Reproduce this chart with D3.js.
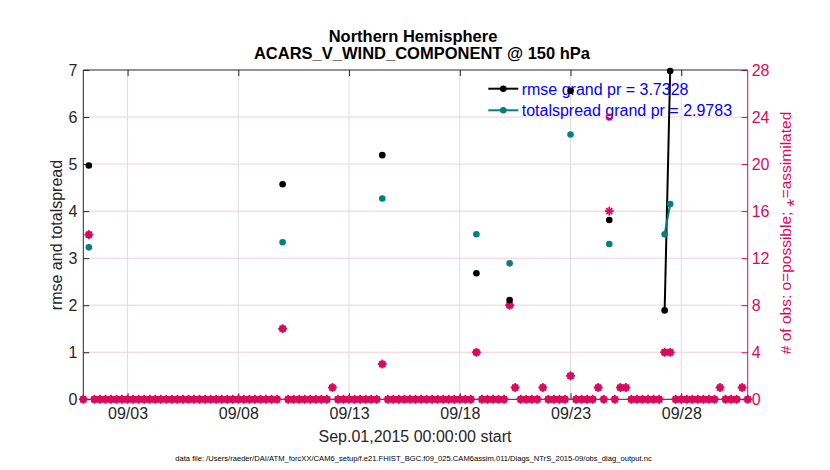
<!DOCTYPE html>
<html>
<head>
<meta charset="utf-8">
<script src="https://cdn.jsdelivr.net/npm/d3@7"></script>
<style>
  body { margin: 0; background: #fff; }
  svg { font-family: "Liberation Sans", Arial, Helvetica, sans-serif; }
</style>
</head>
<body>
<svg id="chart" width="830" height="470"></svg>
<script>
// bins are 6 hourly, starting Sep 1 2015 00Z
var binStart = Date.UTC(2015, 8, 1, 0);
var binHours = 6;

// number of obs per bin (possible / assimilated)
var nPossible = [
  0,14,0,0,0,0,0,0,0,0,
  0,0,0,0,0,0,0,0,0,0,
  0,0,0,0,0,0,0,0,0,0,
  0,0,0,0,0,0,6,0,0,0,
  0,0,0,0,0,1,0,0,0,0,
  0,0,0,0,3,0,0,0,0,0,
  0,0,0,0,0,0,0,0,0,0,
  0,4,0,0,0,0,0,8,1,0,
  0,0,0,1,0,0,0,0,2,0,
  0,0,0,1,0,24,0,1,1,0,
  0,0,0,0,0,4,4,0,0,0,
  0,0,0,0,0,1,0,0,0,1,
  0
];
var nUsed = [
  0,14,0,0,0,0,0,0,0,0,
  0,0,0,0,0,0,0,0,0,0,
  0,0,0,0,0,0,0,0,0,0,
  0,0,0,0,0,0,6,0,0,0,
  0,0,0,0,0,1,0,0,0,0,
  0,0,0,0,3,0,0,0,0,0,
  0,0,0,0,0,0,0,0,0,0,
  0,4,0,0,0,0,0,8,1,0,
  0,0,0,1,0,0,0,0,2,0,
  0,0,0,1,0,16,0,1,1,0,
  0,0,0,0,0,4,4,0,0,0,
  0,0,0,0,0,1,0,0,0,1,
  0
];

// bins where rmse / spread got computed
var statBins    = [1, 36, 54, 71, 77, 88, 95, 105, 106];
var rmse        = [4.97, 4.57, 5.19, 2.68, 2.11, 6.56, 3.81, 1.89, 6.98];
var totalspread = [3.23, 3.34, 4.27, 3.51, 2.89, 5.63, 3.30, 3.51, 4.15];

var xTickDays = [3, 8, 13, 18, 23, 28];
var yTicks = [0, 1, 2, 3, 4, 5, 6, 7];
var yTicksObs = [0, 4, 8, 12, 16, 20, 24, 28];

var legendLabels = ["rmse grand pr = 3.7328", "totalspread grand pr = 2.9783"];
var titleLines = ["Northern Hemisphere", "ACARS_V_WIND_COMPONENT @ 150 hPa"];
var xLabel = "Sep.01,2015 00:00:00 start";
var yLabel = "rmse and totalspread";
var yLabelObs = "# of obs: o=possible; \u204E=assimilated";
var fileLabel = "data file: /Users/raeder/DAI/ATM_forcXX/CAM6_setup/f.e21.FHIST_BGC.f09_025.CAM6assim.011/Diags_NTrS_2015-09/obs_diag_output.nc";

var obsColor = "#d90a5b";
var axisColor = "#262626";
var colors = ["#000000", "#008080"];

var plotLeft = 83.3, plotRight = 747.7, plotTop = 70, plotBottom = 399.3;
var svg = d3.select("#chart");

function binTime(i) { return new Date(binStart + i * binHours * 3600e3); }

var xScale = d3.scaleUtc()
    .domain([new Date(Date.UTC(2015, 8, 1)), new Date(Date.UTC(2015, 9, 1))])
    .range([plotLeft, plotRight]);
var yScale = d3.scaleLinear().domain([0, 7]).range([plotBottom, plotTop]);
var yObs = d3.scaleLinear().domain([0, 28]).range([plotBottom, plotTop]);

var xTicks = xTickDays.map(function(d) { return new Date(Date.UTC(2015, 8, d)); });

// grid
svg.append("g").selectAll("line").data(xTicks).enter().append("line")
    .attr("x1", function(d) { return xScale(d); })
    .attr("x2", function(d) { return xScale(d); })
    .attr("y1", plotTop).attr("y2", plotBottom)
    .style("stroke", "#dedede").style("stroke-width", 1);
svg.append("g").selectAll("line").data(yTicksObs.slice(1, -1)).enter().append("line")
    .attr("x1", plotLeft).attr("x2", plotRight)
    .attr("y1", function(d) { return yObs(d); })
    .attr("y2", function(d) { return yObs(d); })
    .style("stroke", "#f6cddd").style("stroke-width", 1);

// frame and axes, ticks pointing inwards
var bottomAxis = svg.append("g")
    .attr("transform", "translate(0," + plotBottom + ")")
    .call(d3.axisBottom(xScale).tickValues(xTicks).tickFormat(d3.utcFormat("%m/%d"))
        .tickSize(-6).tickPadding(8));
var topAxis = svg.append("g")
    .attr("transform", "translate(0," + plotTop + ")")
    .call(d3.axisTop(xScale).tickValues(xTicks).tickFormat("").tickSize(-6));
var leftAxis = svg.append("g")
    .attr("transform", "translate(" + plotLeft + ",0)")
    .call(d3.axisLeft(yScale).tickValues(yTicks).tickFormat(d3.format("d"))
        .tickSize(-6).tickPadding(6));
var rightAxis = svg.append("g")
    .attr("transform", "translate(" + plotRight + ",0)")
    .call(d3.axisRight(yObs).tickValues(yTicksObs).tickFormat(d3.format("d"))
        .tickSize(-6).tickPadding(4));

[bottomAxis, topAxis, leftAxis].forEach(function(a) {
    a.selectAll("path, line").style("stroke", axisColor);
    a.selectAll("text").style("fill", axisColor).style("font-size", "16px")
        .style("font-family", "Liberation Sans, Arial, sans-serif");
});
rightAxis.selectAll("path, line").style("stroke", obsColor);
rightAxis.selectAll("text").style("fill", obsColor).style("font-size", "16px")
    .style("font-family", "Liberation Sans, Arial, sans-serif");
svg.selectAll(".domain").remove();

svg.append("line").attr("x1", plotLeft).attr("x2", plotRight).attr("y1", plotTop).attr("y2", plotTop)
    .style("stroke", axisColor);
svg.append("line").attr("x1", plotLeft).attr("x2", plotRight).attr("y1", plotBottom).attr("y2", plotBottom)
    .style("stroke", axisColor);
svg.append("line").attr("x1", plotLeft).attr("x2", plotLeft).attr("y1", plotTop).attr("y2", plotBottom)
    .style("stroke", axisColor);
svg.append("line").attr("x1", plotRight).attr("x2", plotRight).attr("y1", plotTop).attr("y2", plotBottom)
    .style("stroke", obsColor);

// legend
var legend = svg.append("g");
legendLabels.forEach(function(lab, k) {
    var ly = 88.7 + k * 21.6;
    legend.append("line")
        .attr("x1", 488.3).attr("x2", 518.3).attr("y1", ly).attr("y2", ly)
        .style("stroke", colors[k]).style("stroke-width", 2);
    legend.append("circle").attr("cx", 503.3).attr("cy", ly).attr("r", 3.3)
        .style("fill", colors[k]);
    legend.append("text")
        .attr("x", 521.7).attr("y", ly + 6)
        .style("font-size", "16px").style("fill", "#0000ff")
        .text(lab);
});

// obs counts: o = possible, * = assimilated
var obsG = svg.append("g");
nPossible.forEach(function(n, i) {
    obsG.append("circle")
        .attr("cx", xScale(binTime(i)))
        .attr("cy", yObs(n))
        .attr("r", 2.8)
        .style("fill", "none")
        .style("stroke", obsColor)
        .style("stroke-width", 1.6);
});
nUsed.forEach(function(n, i) {
    var cx = xScale(binTime(i)), cy = yObs(n), r = 4.5, q = 3;
    var segs = [[-r, 0, r, 0], [0, -r, 0, r], [-q, -q, q, q], [-q, q, q, -q]];
    segs.forEach(function(s) {
        obsG.append("line")
            .attr("x1", cx + s[0]).attr("y1", cy + s[1])
            .attr("x2", cx + s[2]).attr("y2", cy + s[3])
            .style("stroke", obsColor)
            .style("stroke-width", 1.8);
    });
});

// rmse and spread, lines only join neighbouring bins
[rmse, totalspread].forEach(function(series, k) {
    var dense = nPossible.map(function() { return null; });
    statBins.forEach(function(b, j) { dense[b] = series[j]; });
    var pts = dense.map(function(v, i) { return {t: binTime(i), v: v}; });

    var lineFunc = d3.line()
        .defined(function(d) { return d.v !== null; })
        .x(function(d) { return xScale(d.t); })
        .y(function(d) { return yScale(d.v); });
    svg.append("path")
        .attr("d", lineFunc(pts))
        .attr("fill", "none")
        .attr("stroke", colors[k])
        .attr("stroke-width", 2);

    svg.append("g").selectAll("circle")
        .data(pts.filter(function(d) { return d.v !== null; }))
        .enter().append("circle")
        .attr("cx", function(d) { return xScale(d.t); })
        .attr("cy", function(d) { return yScale(d.v); })
        .attr("r", 3.3)
        .style("fill", colors[k]);
});

// titles and labels
svg.append("text").attr("x", 413).attr("y", 41.5).attr("text-anchor", "middle")
    .style("font-size", "16.5px").style("font-weight", "bold").text(titleLines[0]);
svg.append("text").attr("x", 422).attr("y", 58.5).attr("text-anchor", "middle")
    .style("font-size", "16.5px").style("font-weight", "bold").text(titleLines[1]);
svg.append("text").attr("x", 415).attr("y", 441.5).attr("text-anchor", "middle")
    .style("font-size", "16px").style("fill", axisColor).text(xLabel);
svg.append("text").attr("transform", "translate(62,235) rotate(-90)")
    .attr("text-anchor", "middle")
    .style("font-size", "16px").style("fill", axisColor).text(yLabel);
svg.append("text").attr("transform", "translate(791,233) rotate(-90)")
    .attr("text-anchor", "middle")
    .style("font-size", "15.5px").style("fill", obsColor).text(yLabelObs);
svg.append("text").attr("x", 413.5).attr("y", 461).attr("text-anchor", "middle")
    .style("font-size", "7.6px").style("fill", "#000").text(fileLabel);
</script>
</body>
</html>
